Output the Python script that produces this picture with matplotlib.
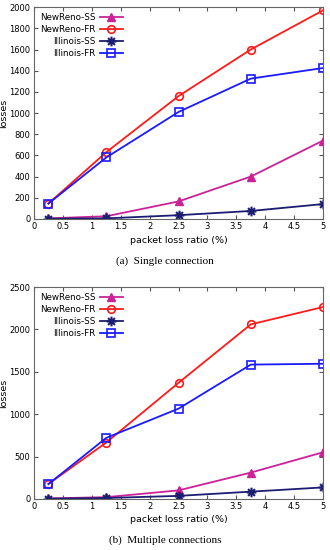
import matplotlib
matplotlib.use('Agg')
import matplotlib.pyplot as plt
from matplotlib.path import Path

# packet loss ratio (%)
x = [0.25, 1.25, 2.5, 3.75, 5.0]

# (a) single connection
single_newreno_ss = [5, 25, 165, 400, 740]
single_newreno_fr = [145, 630, 1160, 1600, 1970]
single_illinois_ss = [2, 5, 35, 75, 140]
single_illinois_fr = [145, 580, 1010, 1325, 1425]

# (b) multiple connections
multi_newreno_ss = [5, 20, 100, 310, 550]
multi_newreno_fr = [175, 665, 1370, 2060, 2265]
multi_illinois_ss = [2, 10, 35, 85, 135]
multi_illinois_fr = [175, 720, 1065, 1585, 1595]

names = ['NewReno-SS', 'NewReno-FR', 'Illinois-SS', 'Illinois-FR']

# gnuplot-like star: plus + cross
d = 0.7071
star = Path([(-1, 0), (1, 0), (0, -1), (0, 1), (-d, -d), (d, d), (-d, d), (d, -d)],
            [Path.MOVETO, Path.LINETO] * 4)

styles = [
    dict(color='#cc2299', marker='^', ms=5.5, mfc='#cc2299'),
    dict(color='#ff1a1a', marker='o', ms=5.5, mfc='none', mew=1.2),
    dict(color='#1c1c72', marker=star, ms=7, mew=1.5),
    dict(color='#1a1aff', marker='s', ms=5.5, mfc='none', mew=1.2),
]

fig = plt.figure(figsize=(3.3, 5.5), dpi=100)


def panel(rect, series, ymax, ystep, caption, cap_y):
    ax = fig.add_axes(rect)
    for name, ys, st in zip(names, series, styles):
        ax.plot(x, ys, lw=1.3, label=name, **st)
    ax.set_xlim(0, 5)
    ax.set_ylim(0, ymax)
    ax.set_xticks([i * 0.5 for i in range(11)])
    ax.set_xticklabels(['0', '0.5', '1', '1.5', '2', '2.5', '3', '3.5', '4', '4.5', '5'])
    ax.set_yticks(range(0, ymax + 1, ystep))
    ax.tick_params(direction='in', top=True, right=True, labelsize=6, length=3,
                   color='#555555', pad=2.5)
    for s in ax.spines.values():
        s.set_color('#666666')
        s.set_linewidth(0.8)
    ax.set_xlabel('packet loss ratio (%)', fontsize=6.8, labelpad=3)
    ax.set_ylabel('losses', fontsize=6.8)
    ax.yaxis.set_label_coords(-0.09, 0.5)
    ax.legend(loc='upper left', frameon=False, markerfirst=False, fontsize=6.3,
              handlelength=2.6, handletextpad=0.5, labelspacing=0.35,
              borderaxespad=0.3, bbox_to_anchor=(0.0, 1.0))
    fig.text(0.5, cap_y, caption, ha='center', va='center', fontsize=8,
             family='Liberation Serif')
    return ax


panel([0.103, 0.602, 0.876, 0.385],
      [single_newreno_ss, single_newreno_fr, single_illinois_ss, single_illinois_fr],
      2000, 200, '(a)  Single connection', 1 - 261 / 550)
panel([0.103, 0.093, 0.876, 0.385],
      [multi_newreno_ss, multi_newreno_fr, multi_illinois_ss, multi_illinois_fr],
      2500, 500, '(b)  Multiple connections', 1 - 540 / 550)

fig.savefig('out.png', dpi=100, facecolor='white')
